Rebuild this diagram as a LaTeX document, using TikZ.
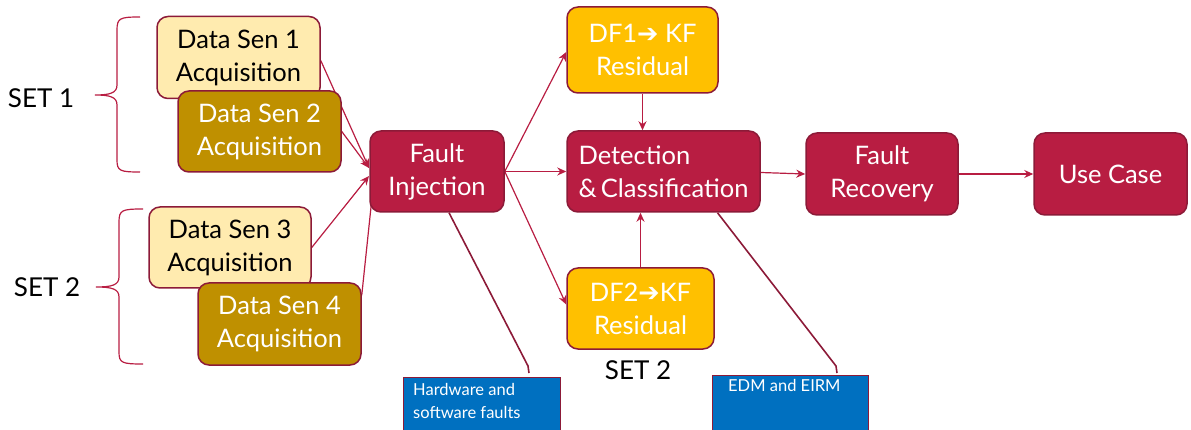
\documentclass[tikz,border=0pt]{standalone}
\usepackage{fontspec}
\setmainfont{Lato}
\newfontfamily\symfont{DejaVu Sans}
\usetikzlibrary{arrows.meta,calc,backgrounds}
\definecolor{crim}{HTML}{B81D42}
\definecolor{rim}{HTML}{8C1A38}
\definecolor{paleyel}{HTML}{FFEBAF}
\definecolor{gold}{HTML}{BF9000}
\definecolor{amber}{HTML}{FFC000}
\definecolor{callblue}{HTML}{0070C0}
\newcommand{\rarr}{{\symfont\char"2794}}
\tikzset{
  box/.style={draw=rim, line width=1.5pt, rounded corners=11pt, align=center,
    inner sep=0pt, font=\fontsize{25.5}{33}\selectfont},
  stage/.style={box, fill=crim, text=white},
  lightsen/.style={box, fill=paleyel, text=black},
  darksen/.style={box, fill=gold, text=white},
  resid/.style={box, fill=amber, text=white},
  note/.style={fill=callblue, draw=rim, line width=0.8pt},
  notetext/.style={text=white, font=\fontsize{16.5}{23}\selectfont, align=left, anchor=north west, inner sep=0pt},
  flow/.style={draw=crim, line width=1.2pt, -{Stealth[length=9pt,width=8pt]}},
  plain/.style={draw=crim, line width=1.2pt},
  callout/.style={draw=rim, line width=1.6pt},
  brace/.style={draw=crim, line width=1.2pt},
  setlabel/.style={font=\fontsize{26}{30}\selectfont, text=black}
}
\begin{document}
\begin{tikzpicture}[x=1pt,y=-1pt]
\useasboundingbox (0,0) rectangle (1191,430);

% sensor acquisition boxes
\node[lightsen, minimum width=163pt, minimum height=82pt] (s1) at (238.5,57.5) {Data Sen 1\\Acquisition};
\node[darksen,  minimum width=163pt, minimum height=81pt] (s2) at (259.5,131.5) {Data Sen 2\\Acquisition};
\node[lightsen, minimum width=162pt, minimum height=81pt] (s3) at (230,247.5) {Data Sen 3\\Acquisition};
\node[darksen,  minimum width=163pt, minimum height=82pt] (s4) at (279.5,324) {Data Sen 4\\Acquisition};

% processing chain
\node[stage, minimum width=134pt, minimum height=81pt] (fi) at (437,171.5) {Fault\\Injection};
\node[stage, minimum width=193pt, minimum height=81pt, align=left] (det) at (663.5,171.5) {Detection\\\&\,Classification};
\node[stage, minimum width=152pt, minimum height=82pt] (fr) at (882,174) {Fault\\Recovery};
\node[stage, minimum width=153pt, minimum height=82pt] (uc) at (1110.5,174) {Use Case};
\node[resid, minimum width=151pt, minimum height=86pt] (df1) at (642.5,50) {DF1\rarr\ KF\\Residual};
\node[resid, minimum width=147pt, minimum height=81pt] (df2) at (640.5,308.5) {DF2\rarr KF\\Residual};

% set labels and braces
\node[setlabel] (set1) at (41,98) {SET 1};
\node[setlabel] (set2) at (47,287) {SET 2};
\node[setlabel] (set2b) at (638,370) {SET 2};
\draw[brace] (140,17) .. controls (120,17) and (117,18) .. (117,30) -- (117,85)
  .. controls (117,93) and (110,95) .. (95,95)
  .. controls (110,95) and (117,97) .. (117,105) -- (117,160)
  .. controls (117,171) and (120,172) .. (140,172);
\draw[brace] (143,209) .. controls (122,209) and (119,210) .. (119,222) -- (119,277)
  .. controls (119,285) and (112,287) .. (96,287)
  .. controls (112,287) and (119,289) .. (119,297) -- (119,352)
  .. controls (119,363) and (122,364) .. (143,364);

% notes
\draw[note] (403,432) -- (403,377) -- (560,377) -- (560,432);
\node[notetext] (n1) at (413,383) {Hardware and\\software faults};
\draw[note] (712,432) -- (712,375) -- (868,375) -- (868,432);
\node[notetext] (n2) at (728,379) {EDM and EIRM};
\coordinate (k1) at (528,366);
\coordinate (k1e) at (529,373);
\coordinate (k2) at (836,366);
\coordinate (k2e) at (837,373);

\begin{scope}[on background layer]
  \coordinate (m1) at (369,168);
  \coordinate (m2) at (369,176);
  \draw[flow] ($(s1.east)+(0,3)$) -- (m1);
  \draw[flow] (s2.east) -- (m1);
  \draw[flow] (s3.east) -- (m2);
  \draw[plain] ($(s4.north east)+(0,13)$) -- ($(fi.south west)+(2,-8)$);
  \draw[flow] (fi.east) -- ($(df1.west)+(0,2)$);
  \draw[flow] (fi.east) -- (det.west);
  \draw[flow] (fi.east) -- ($(df2.west)+(0,-4)$);
  \draw[flow] (df1.south) -- (df1.south |- det.north);
  \draw[flow] (df2.north) -- (df2.north |- det.south);
  \draw[flow] ($(det.east)+(0,1)$) -- (fr.west);
  \draw[flow] (fr.east) -- (uc.west);
  \draw[callout] ($(fi.south)+(12,0)$) -- (k1) -- (k1e);
  \draw[callout] ($(det.south)+(54,0)$) -- (k2) -- (k2e);
\end{scope}
\end{tikzpicture}
\end{document}
